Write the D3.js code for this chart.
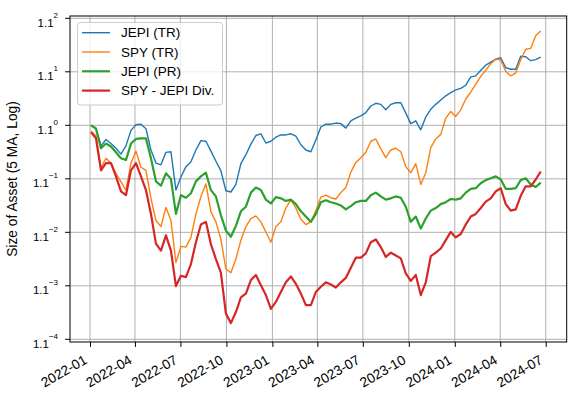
<!DOCTYPE html>
<html>
<head>
<meta charset="utf-8">
<script src="https://cdn.jsdelivr.net/npm/d3@7"></script>
<style>
  body { margin: 0; background: #fff; }
  text { font-family: "Liberation Sans", Arial, sans-serif; fill: #000; }
</style>
</head>
<body>
<script>
// first sample and spacing of the (5 day MA) samples, in days
const startDate = new Date(2022, 0, 3);
const stepDays = 10;

const jepiTR = [1.000, 0.995, 0.964, 0.975, 0.968, 0.960, 0.950, 0.964, 0.991, 1.001,
    1.002, 0.994, 0.957, 0.935, 0.932, 0.953, 0.954, 0.891, 0.912, 0.929,
    0.937, 0.957, 0.973, 0.972, 0.955, 0.938, 0.922, 0.890, 0.888, 0.900,
    0.934, 0.949, 0.967, 0.982, 0.985, 0.969, 0.972, 0.979, 0.983, 0.983,
    0.985, 0.981, 0.966, 0.957, 0.954, 0.974, 0.997, 1.002, 1.002, 1.004,
    1.003, 0.995, 1.008, 1.013, 1.017, 1.023, 1.035, 1.040, 1.038, 1.028,
    1.038, 1.041, 1.041, 1.022, 1.003, 1.008, 0.992, 1.015, 1.029, 1.038,
    1.046, 1.054, 1.060, 1.065, 1.068, 1.074, 1.090, 1.092, 1.103, 1.113,
    1.119, 1.125, 1.128, 1.108, 1.105, 1.105, 1.131, 1.130, 1.122, 1.124,
    1.129];

const spyTR = [0.990, 0.981, 0.927, 0.943, 0.935, 0.918, 0.904, 0.891, 0.935, 0.955,
    0.928, 0.923, 0.878, 0.844, 0.835, 0.864, 0.844, 0.783, 0.806, 0.805,
    0.819, 0.854, 0.881, 0.901, 0.857, 0.842, 0.816, 0.774, 0.769, 0.788,
    0.815, 0.835, 0.847, 0.851, 0.842, 0.827, 0.812, 0.835, 0.842, 0.863,
    0.876, 0.863, 0.846, 0.838, 0.842, 0.859, 0.880, 0.883, 0.879, 0.877,
    0.887, 0.895, 0.920, 0.936, 0.944, 0.953, 0.972, 0.976, 0.959, 0.944,
    0.957, 0.960, 0.954, 0.929, 0.919, 0.934, 0.900, 0.919, 0.961, 0.976,
    0.984, 1.013, 1.025, 1.016, 1.028, 1.048, 1.061, 1.076, 1.091, 1.103,
    1.116, 1.125, 1.124, 1.101, 1.092, 1.098, 1.124, 1.145, 1.147, 1.173,
    1.183];

const jepiPR = [1.000, 0.994, 0.960, 0.968, 0.963, 0.953, 0.943, 0.940, 0.968, 0.976,
    0.977, 0.977, 0.943, 0.905, 0.898, 0.918, 0.909, 0.854, 0.883, 0.879,
    0.886, 0.905, 0.913, 0.919, 0.891, 0.881, 0.852, 0.829, 0.820, 0.836,
    0.858, 0.865, 0.887, 0.895, 0.891, 0.876, 0.870, 0.880, 0.878, 0.874,
    0.876, 0.869, 0.858, 0.850, 0.842, 0.854, 0.872, 0.875, 0.872, 0.870,
    0.867, 0.861, 0.866, 0.872, 0.874, 0.874, 0.883, 0.887, 0.881, 0.876,
    0.878, 0.881, 0.879, 0.865, 0.842, 0.850, 0.832, 0.847, 0.859, 0.863,
    0.869, 0.872, 0.877, 0.876, 0.878, 0.887, 0.893, 0.894, 0.902, 0.907,
    0.910, 0.913, 0.908, 0.893, 0.893, 0.894, 0.907, 0.910, 0.900, 0.896,
    0.903];

const spyDiv = [0.988, 0.977, 0.923, 0.935, 0.935, 0.913, 0.889, 0.883, 0.923, 0.935,
    0.913, 0.891, 0.854, 0.810, 0.800, 0.822, 0.800, 0.751, 0.765, 0.763,
    0.781, 0.812, 0.838, 0.842, 0.809, 0.788, 0.769, 0.715, 0.703, 0.717,
    0.736, 0.741, 0.759, 0.766, 0.752, 0.739, 0.721, 0.730, 0.743, 0.756,
    0.764, 0.754, 0.741, 0.726, 0.726, 0.743, 0.750, 0.756, 0.753, 0.749,
    0.756, 0.762, 0.776, 0.790, 0.790, 0.796, 0.812, 0.816, 0.805, 0.791,
    0.797, 0.793, 0.789, 0.768, 0.758, 0.766, 0.739, 0.756, 0.792, 0.797,
    0.803, 0.815, 0.827, 0.819, 0.824, 0.838, 0.850, 0.854, 0.863, 0.873,
    0.878, 0.889, 0.894, 0.869, 0.859, 0.861, 0.882, 0.897, 0.897, 0.908,
    0.921];

const seriesNames = ["JEPI (TR)", "SPY (TR)", "JEPI (PR)", "SPY - JEPI Div."];
const xTickLabels = ["2022-01", "2022-04", "2022-07", "2022-10", "2023-01", "2023-04",
    "2023-07", "2023-10", "2024-01", "2024-04", "2024-07"];
const yTickExps = [-4, -3, -2, -1, 0, 1, 2];
const yLabel = "Size of Asset (5 MA, Log)";

const width = 575, height = 398;
const plotLeft = 70, plotRight = 566.7, plotTop = 16, plotBottom = 342;

const colors = ["#1f77b4", "#ff7f0e", "#2ca02c", "#d62728"];
const widths = [1.4, 1.4, 2.2, 2.2];

let svg = d3.select("body").append("svg")
    .attr("width", width)
    .attr("height", height);

let parseMonth = d3.timeParse("%Y-%m");
let dates = jepiTR.map((d, i) => d3.timeDay.offset(startDate, i * stepDays));

let x = d3.scaleTime()
    .domain([new Date(2021, 10, 22), new Date(2024, 7, 12)])
    .range([plotLeft, plotRight]);

let y = d3.scaleLog()
    .base(1.1)
    .domain([Math.pow(1.1, -4.05), Math.pow(1.1, 2.043)])
    .range([plotBottom, plotTop]);

let xTicks = xTickLabels.map(parseMonth);
let yTicks = yTickExps.map(k => Math.pow(1.1, k));

// grid
svg.append("g").selectAll("line")
    .data(xTicks)
    .join("line")
    .attr("x1", d => x(d)).attr("x2", d => x(d))
    .attr("y1", plotTop).attr("y2", plotBottom)
    .attr("stroke", "#b0b0b0").attr("stroke-width", 1);

svg.append("g").selectAll("line")
    .data(yTicks)
    .join("line")
    .attr("x1", plotLeft).attr("x2", plotRight)
    .attr("y1", d => y(d)).attr("y2", d => y(d))
    .attr("stroke", "#b0b0b0").attr("stroke-width", 1);

// series
let allSeries = [jepiTR, spyTR, jepiPR, spyDiv];
let line = d3.line()
    .x((d, i) => x(dates[i]))
    .y(d => y(d));

allSeries.forEach((s, i) => {
    svg.append("path")
        .datum(s)
        .attr("d", line)
        .attr("fill", "none")
        .attr("stroke", colors[i])
        .attr("stroke-width", widths[i])
        .attr("stroke-linejoin", "round");
});

// x axis
let xAxis = svg.append("g")
    .attr("transform", `translate(0,${plotBottom})`)
    .call(d3.axisBottom(x)
        .tickValues(xTicks)
        .tickFormat(d3.timeFormat("%Y-%m"))
        .tickSize(4.9)
        .tickSizeOuter(0));
xAxis.select(".domain").remove();
xAxis.selectAll("line").attr("stroke", "#000").attr("stroke-width", 1);
xAxis.selectAll("text")
    .attr("x", null).attr("y", null).attr("dy", null)
    .attr("text-anchor", "end")
    .attr("font-size", 13.7)
    .attr("font-family", "Liberation Sans, Arial, sans-serif")
    .attr("transform", "translate(-2.5,20.6) rotate(-30)");

// y axis
let yAxis = svg.append("g");
yAxis.selectAll("line")
    .data(yTicks)
    .join("line")
    .attr("x1", plotLeft - 4.9).attr("x2", plotLeft)
    .attr("y1", d => y(d)).attr("y2", d => y(d))
    .attr("stroke", "#000").attr("stroke-width", 1);

let yText = yAxis.selectAll("text")
    .data(yTickExps)
    .join("text")
    .attr("x", plotLeft - 12)
    .attr("y", k => y(Math.pow(1.1, k)) + 8.5)
    .attr("text-anchor", "end")
    .attr("font-size", 11.5);
yText.append("tspan").text("1.1");
yText.append("tspan")
    .attr("dy", -9)
    .attr("font-size", 8)
    .text(k => k < 0 ? "\u2212" + Math.abs(k) : String(k));

svg.append("text")
    .attr("transform", `translate(16.5,${(plotTop + plotBottom) / 2}) rotate(-90)`)
    .attr("text-anchor", "middle")
    .attr("font-size", 13.8)
    .text(yLabel);

// frame
svg.append("rect")
    .attr("x", plotLeft).attr("y", plotTop)
    .attr("width", plotRight - plotLeft).attr("height", plotBottom - plotTop)
    .attr("fill", "none")
    .attr("stroke", "#000").attr("stroke-width", 1);

// legend
let legend = svg.append("g");
legend.append("rect")
    .attr("x", 77.5).attr("y", 22.5)
    .attr("width", 145).attr("height", 82.5)
    .attr("rx", 3)
    .attr("fill", "#fff").attr("fill-opacity", 0.8)
    .attr("stroke", "#cccccc").attr("stroke-width", 1);

seriesNames.forEach((name, i) => {
    let ry = 32.7 + i * 19.3;
    legend.append("line")
        .attr("x1", 82).attr("x2", 110)
        .attr("y1", ry).attr("y2", ry)
        .attr("stroke", colors[i])
        .attr("stroke-width", widths[i]);
    legend.append("text")
        .attr("x", 121).attr("y", ry)
        .attr("dy", "0.35em")
        .attr("font-size", 13.5)
        .text(name);
});
</script>
</body>
</html>
